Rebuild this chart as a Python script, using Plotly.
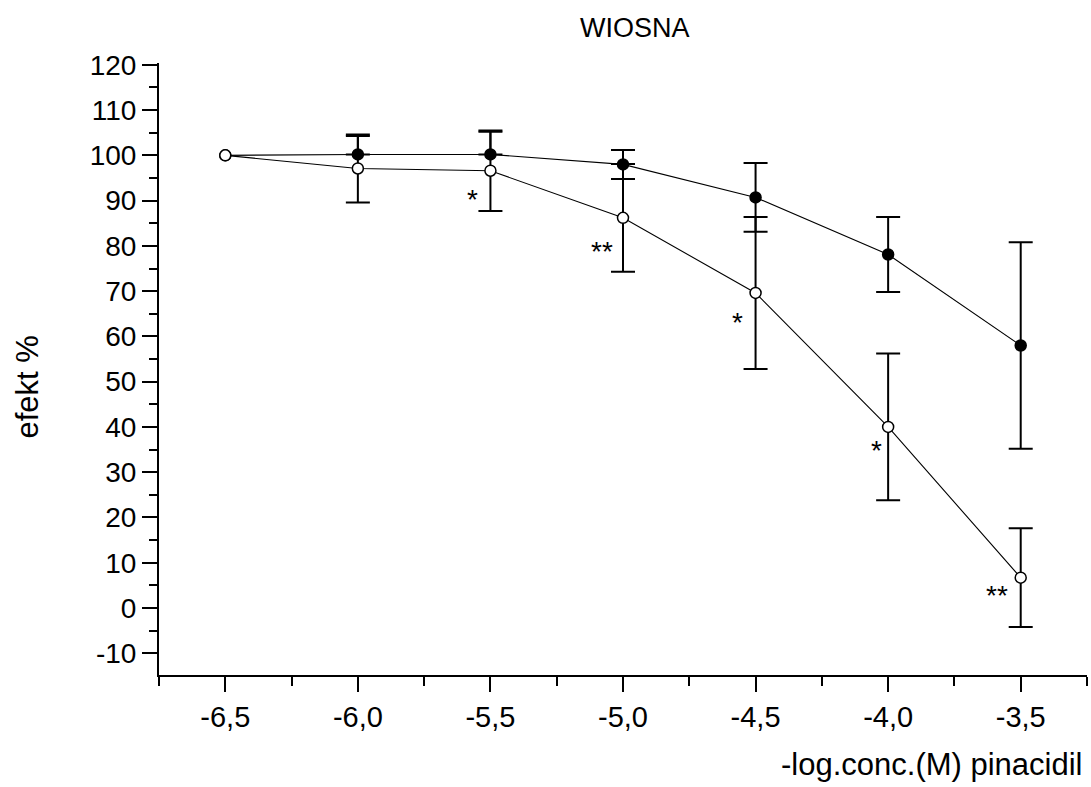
import plotly.graph_objects as go

# Concentration (log M) and response data
conc = [-6.5, -6.0, -5.5, -5.0, -4.5, -4.0, -3.5]

control_effect = [100.0, 100.2, 100.2, 98.0, 90.7, 78.1, 58.0]
treated_effect = [100.0, 97.1, 96.6, 86.2, 69.6, 40.0, 6.7]

# Error bars exist from -6.0 onwards (the -6.5 baseline has none)
err_conc = [-6.0, -5.5, -5.0, -4.5, -4.0, -3.5]
control_err_plus = [4.1, 5.0, 3.2, 7.6, 8.3, 22.8]
control_err_minus = [0.0, 0.0, 3.2, 7.6, 8.3, 22.8]
treated_err = [7.5, 8.9, 11.9, 16.8, 16.2, 10.9]

# Significance markers
sig_x = [-5.569, -5.079, -4.569, -4.045, -3.588]
sig_y = [91.4, 79.8, 64.1, 36.0, 3.8]
sig_text = ["*", "**", "*", "*", "**"]

# Axis ticks
x_ticks = [-6.5, -6.0, -5.5, -5.0, -4.5, -4.0, -3.5]
x_ticklabels = ["-6,5", "-6,0", "-5,5", "-5,0", "-4,5", "-4,0", "-3,5"]
y_ticks = [-10, 0, 10, 20, 30, 40, 50, 60, 70, 80, 90, 100, 110, 120]
y_ticklabels = ["-10", "0", "10", "20", "30", "40", "50", "60", "70", "80", "90", "100", "110", "120"]

FONT = "Liberation Sans, Arial, sans-serif"


def lookup(xs, ys, keys):
    table = dict(zip(xs, ys))
    return [table[k] for k in keys]


fig = go.Figure()


def add_series(effect, err_plus, err_minus, fill):
    # error bars (drawn beneath the markers)
    fig.add_trace(go.Scatter(
        x=err_conc, y=lookup(conc, effect, err_conc),
        mode="markers", marker=dict(size=1, color="rgba(0,0,0,0)"),
        error_y=dict(type="data", array=err_plus, arrayminus=err_minus,
                     symmetric=False, visible=True,
                     color="black", thickness=2, width=12),
        hoverinfo="skip", showlegend=False,
    ))
    # connecting line and markers
    fig.add_trace(go.Scatter(
        x=conc, y=effect,
        mode="lines+markers",
        line=dict(color="black", width=1.1),
        marker=dict(symbol="circle", size=11, color=fill,
                    line=dict(color="black", width=1.5)),
        showlegend=False,
    ))


add_series(control_effect, control_err_plus, control_err_minus, "black")
add_series(treated_effect, treated_err, treated_err, "white")

annotations = []
for sx, sy, st in zip(sig_x, sig_y, sig_text):
    annotations.append(dict(
        x=sx, y=sy, xref="x", yref="y", text=st, showarrow=False,
        font=dict(family=FONT, size=28, color="black"),
        xanchor="center", yanchor="middle", yshift=-5,
    ))

annotations.append(dict(
    x=0.513, y=1.057, xref="paper", yref="paper", text="WIOSNA",
    showarrow=False, font=dict(family=FONT, size=27, color="black"),
    xanchor="center", yanchor="middle",
))
annotations.append(dict(
    x=-0.142, y=0.47, xref="paper", yref="paper", text="efekt %",
    textangle=-90, showarrow=False,
    font=dict(family=FONT, size=31, color="black"),
    xanchor="center", yanchor="middle",
))
annotations.append(dict(
    x=0.998, y=-0.146, xref="paper", yref="paper",
    text="-log.conc.(M) pinacidil", showarrow=False,
    font=dict(family=FONT, size=31, color="black"),
    xanchor="right", yanchor="middle",
))

fig.update_layout(
    width=1091, height=787,
    margin=dict(l=159, r=4, t=63, b=112, autoexpand=False),
    paper_bgcolor="white", plot_bgcolor="white",
    font=dict(family=FONT, color="black"),
    annotations=annotations,
)

fig.update_xaxes(
    range=[-6.75, -3.25], showgrid=False, zeroline=False,
    showline=True, linecolor="black", linewidth=2,
    ticks="outside", ticklen=15, tickwidth=2, tickcolor="black",
    tickvals=x_ticks, ticktext=x_ticklabels,
    tickfont=dict(family=FONT, size=29, color="black"),
    minor=dict(ticks="outside", ticklen=9, tickwidth=2, tickcolor="black",
               tick0=-6.75, dtick=0.25, showgrid=False),
)

fig.update_yaxes(
    range=[-14.8, 120.4], showgrid=False, zeroline=False,
    showline=True, linecolor="black", linewidth=2,
    ticks="outside", ticklen=15, tickwidth=2, tickcolor="black",
    tickvals=y_ticks, ticktext=y_ticklabels,
    tickfont=dict(family=FONT, size=28, color="black"),
    minor=dict(ticks="outside", ticklen=8, tickwidth=2, tickcolor="black",
               tick0=0, dtick=5, showgrid=False),
)

fig.write_html("out.html")
